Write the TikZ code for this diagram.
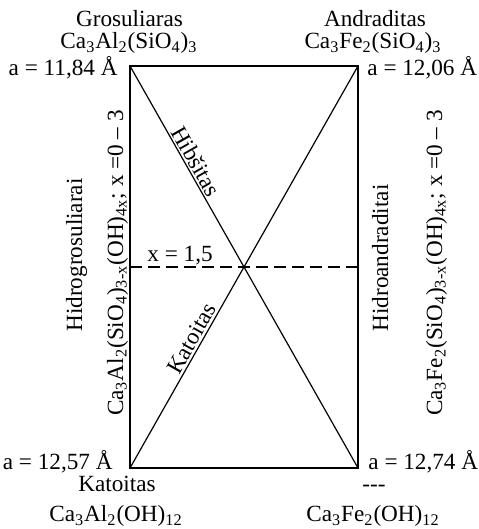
\documentclass[tikz,border=0pt]{standalone}
\usepackage{fontspec}
\setmainfont{Liberation Serif}
\usetikzlibrary{calc}
\tikzset{mineral/.style={font=\fontsize{11.6}{13}\selectfont,inner sep=0pt,anchor=base}}

\begin{document}
\begin{tikzpicture}[x=0.5pt,y=0.5pt]
\useasboundingbox (0,0) rectangle (478,529);
\coordinate (GR) at (130,463); \coordinate (AN) at (358,463);
\coordinate (KA) at (130,61); \coordinate (FE) at (358,61);
\coordinate (ML) at (130,262); \coordinate (MR) at (358,262);
\draw[line width=0.7pt] (GR)--(AN)--(FE)--(KA)--cycle;
\draw[line width=0.6pt] (GR)--node[mineral,sloped,above,pos=0.25,inner sep=1pt]{Hibšitas} (FE);
\draw[line width=0.6pt] (KA)--node[mineral,sloped,above,pos=0.31,inner sep=1pt]{Katoitas} (AN);
\draw[line width=0.6pt,dash pattern=on 6pt off 3pt] (ML)--(MR);
\node[mineral,anchor=base west] (xmid) at (147,267) {x = 1,5};
% corner labels
\node[mineral] (grosName) at (129.5,502) {Grosuliaras};
\node[mineral] (grosForm) at (129,480) {Ca\textsubscript{3}Al\textsubscript{2}(SiO\textsubscript{4})\textsubscript{3}};
\node[mineral] (andrName) at (375,502) {Andraditas};
\node[mineral] (andrForm) at (373,480) {Ca\textsubscript{3}Fe\textsubscript{2}(SiO\textsubscript{4})\textsubscript{3}};
\node[mineral] (katoName) at (117,37) {Katoitas};
\node[mineral] (katoForm) at (116,7) {Ca\textsubscript{3}Al\textsubscript{2}(OH)\textsubscript{12}};
\node[mineral] (feName) at (374,37) {-\kern0pt-\kern0pt-};
\node[mineral] (feForm) at (373,7) {Ca\textsubscript{3}Fe\textsubscript{2}(OH)\textsubscript{12}};
\node[mineral,anchor=base east] (aGR) at (118,453) {a = 11,84 Å};
\node[mineral,anchor=base west] (aAN) at (367,453) {a = 12,06 Å};
\node[mineral,anchor=base east] (aKA) at (113,59) {a = 12,57 Å};
\node[mineral,anchor=base west] (aFE) at (368,59) {a = 12,74 Å};
% side series
\node[mineral,rotate=90] (hgName) at (82,274) {Hidrogrosuliarai};
\node[mineral,rotate=90] (hgForm) at (123,266) {Ca\textsubscript{3}Al\textsubscript{2}(SiO\textsubscript{4})\textsubscript{3-x}(OH)\textsubscript{4x}; x =0 – 3};
\node[mineral,rotate=90] (haName) at (388,271) {Hidroandraditai};
\node[mineral,rotate=90] (haForm) at (442,266) {Ca\textsubscript{3}Fe\textsubscript{2}(SiO\textsubscript{4})\textsubscript{3-x}(OH)\textsubscript{4x}; x =0 – 3};
\end{tikzpicture}
\end{document}
